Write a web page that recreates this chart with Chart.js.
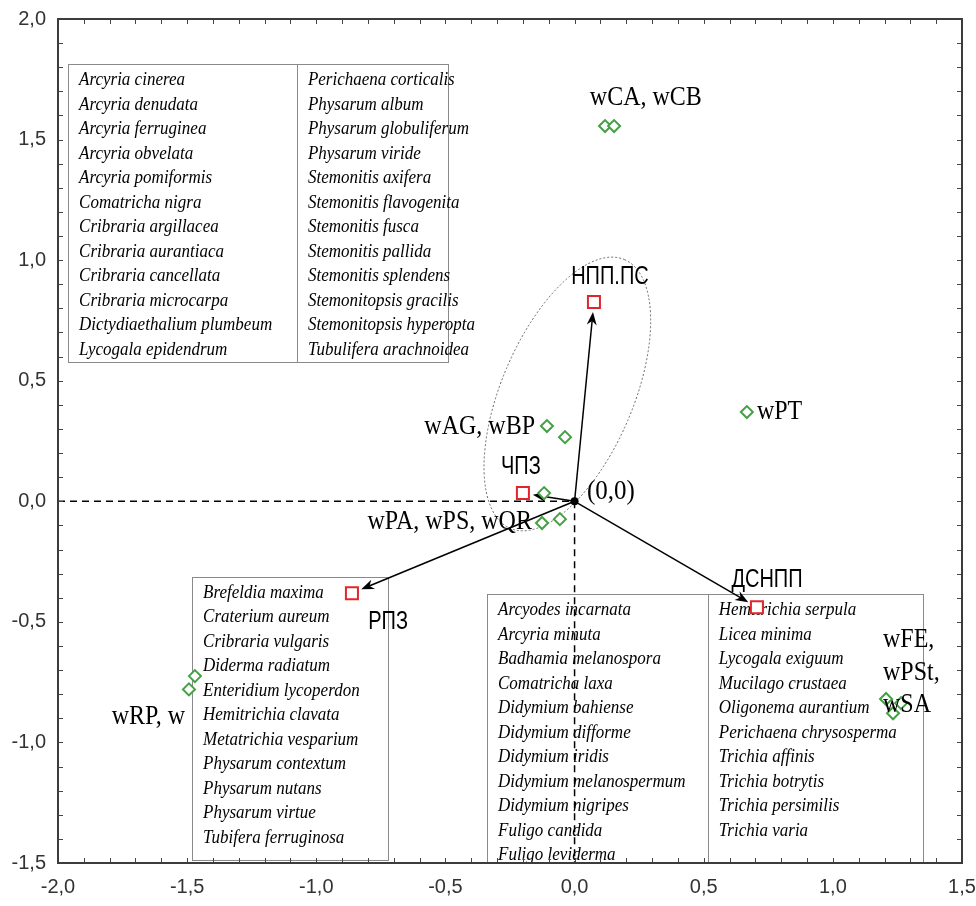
<!DOCTYPE html>
<html>
<head>
<meta charset="utf-8">
<script src="https://cdn.jsdelivr.net/npm/chart.js@4/dist/chart.umd.min.js"></script>
<style>
  html, body { margin: 0; padding: 0; background: #fff; }
  #wrap { width: 976px; height: 906px; }
</style>
</head>
<body>
<div id="wrap"><canvas id="chart" width="976" height="906"></canvas></div>
<script>
// axis ranges
const xRange = [-2.0, 1.5];
const yRange = [-1.5, 2.0];

// sites (green diamonds)
const siteX = [0.118, 0.153, 0.667, -0.107, -0.037, -0.118, -0.126, -0.057, -1.470, -1.493, 1.206, 1.264, 1.233];
const siteY = [1.556, 1.556, 0.370, 0.312, 0.266, 0.034, -0.090, -0.074, -0.725, -0.780, -0.820, -0.837, -0.879];
const siteLabels = ['wCA, wCB', 'wPT', 'wAG, wBP', 'wPA, wPS, wQR', 'wRP, w', 'wFE,', 'wPSt,', 'wSA'];

// zones (red squares, arrows from origin)
const zoneNames = ['НПП.ПС', 'ЧПЗ', 'РПЗ', 'ДСНПП'];
const zoneX = [0.075, -0.200, -0.862, 0.706];
const zoneY = [0.826, 0.034, -0.381, -0.439];

// species lists
const speciesA1 = ['Arcyria cinerea', 'Arcyria denudata', 'Arcyria ferruginea', 'Arcyria obvelata',
  'Arcyria pomiformis', 'Comatricha nigra', 'Cribraria argillacea', 'Cribraria aurantiaca',
  'Cribraria cancellata', 'Cribraria microcarpa', 'Dictydiaethalium plumbeum', 'Lycogala epidendrum'];
const speciesA2 = ['Perichaena corticalis', 'Physarum album', 'Physarum globuliferum', 'Physarum viride',
  'Stemonitis axifera', 'Stemonitis flavogenita', 'Stemonitis fusca', 'Stemonitis pallida',
  'Stemonitis splendens', 'Stemonitopsis gracilis', 'Stemonitopsis hyperopta', 'Tubulifera arachnoidea'];
const speciesB = ['Brefeldia maxima', 'Craterium aureum', 'Cribraria vulgaris', 'Diderma radiatum',
  'Enteridium lycoperdon', 'Hemitrichia clavata', 'Metatrichia vesparium', 'Physarum contextum',
  'Physarum nutans', 'Physarum virtue', 'Tubifera ferruginosa'];
const speciesC1 = ['Arcyodes incarnata', 'Arcyria minuta', 'Badhamia melanospora', 'Comatricha laxa',
  'Didymium bahiense', 'Didymium difforme', 'Didymium iridis', 'Didymium melanospermum',
  'Didymium nigripes', 'Fuligo candida', 'Fuligo leviderma'];
const speciesC2 = ['Hemitrichia serpula', 'Licea minima', 'Lycogala exiguum', 'Mucilago crustaea',
  'Oligonema aurantium', 'Perichaena chrysosperma', 'Trichia affinis', 'Trichia botrytis',
  'Trichia persimilis', 'Trichia varia'];

// where the text goes (data units)
const siteLabelPlaces = [
  { x: 0.276, y: 1.672, align: 'center' },
  { x: 0.706, y: 0.370, align: 'left' },
  { x: -0.153, y: 0.308, align: 'right' },
  { x: -0.165, y: -0.086, align: 'right' },
  { x: -1.508, y: -0.895, align: 'right' },
  { x: 1.194, y: -0.576, align: 'left' },
  { x: 1.194, y: -0.713, align: 'left' },
  { x: 1.194, y: -0.845, align: 'left' }
];
const zoneLabelPlaces = [
  { x: 0.137, y: 0.930 },
  { x: -0.208, y: 0.142 },
  { x: -0.722, y: -0.501 },
  { x: 0.745, y: -0.327 }
];
// boxes: x0, x1, yTop, yBottom, divider
const boxes = [
  { x0: -1.961, x1: -0.490, top: 1.813, bottom: 0.577, div: -1.075, cols: [speciesA1, speciesA2] },
  { x0: -1.481, x1: -0.722, top: -0.314, bottom: -1.488, div: null, cols: [speciesB] },
  { x0: -0.339, x1: 1.349, top: -0.385, bottom: -1.5, div: 0.516, cols: [speciesC1, speciesC2] }
];

const fmt = v => v.toFixed(1).replace('.', ',').replace('-0,0', '0,0');

function drawText(ctx, s, x, y, font, align, sy) {
  ctx.save();
  ctx.translate(x, y);
  ctx.scale(1, sy || 1);
  ctx.font = font;
  ctx.textAlign = align;
  ctx.textBaseline = 'middle';
  ctx.fillStyle = '#000';
  ctx.fillText(s, 0, 0);
  ctx.restore();
}

const ordination = {
  id: 'ordination',
  beforeDatasetsDraw(chart) {
    const ctx = chart.ctx;
    const xs = chart.scales.x, ys = chart.scales.y;
    const px = v => xs.getPixelForValue(v), py = v => ys.getPixelForValue(v);

    // species boxes
    ctx.save();
    ctx.strokeStyle = '#8a8a8a';
    ctx.lineWidth = 1;
    boxes.forEach(b => {
      const l = px(b.x0), r = px(b.x1), t = py(b.top), bt = py(b.bottom);
      ctx.strokeRect(Math.round(l) + 0.5, Math.round(t) + 0.5, Math.round(r - l), Math.round(bt - t));
      if (b.div !== null) {
        ctx.beginPath();
        ctx.moveTo(Math.round(px(b.div)) + 0.5, t);
        ctx.lineTo(Math.round(px(b.div)) + 0.5, bt);
        ctx.stroke();
      }
      const starts = b.div !== null ? [l, px(b.div)] : [l];
      b.cols.forEach((col, ci) => {
        col.forEach((s, ri) => {
          drawText(ctx, s, starts[ci] + 11, t + 16 + ri * 24.5, 'italic 17px "Liberation Serif"', 'left', 1.1);
        });
      });
    });
    ctx.restore();

    // ellipse round the two upper zones
    ctx.save();
    ctx.strokeStyle = '#666';
    ctx.setLineDash([2, 2]);
    ctx.lineWidth = 1;
    ctx.beginPath();
    ctx.ellipse(px(-0.028), py(0.445), 146, 66, -67 * Math.PI / 180, 0, Math.PI * 2);
    ctx.stroke();
    ctx.restore();

    // arrows from origin
    ctx.save();
    ctx.strokeStyle = '#000';
    ctx.fillStyle = '#000';
    ctx.lineWidth = 1.5;
    const ox = px(0), oy = py(0);
    zoneX.forEach((zx, i) => {
      const tx = px(zx), ty = py(zoneY[i]);
      const dx = tx - ox, dy = ty - oy, len = Math.hypot(dx, dy);
      const ux = dx / len, uy = dy / len;
      const ex = tx - ux * 10, ey = ty - uy * 10;
      ctx.beginPath();
      ctx.moveTo(ox, oy);
      ctx.lineTo(ex - ux * 8, ey - uy * 8);
      ctx.stroke();
      ctx.beginPath();
      ctx.moveTo(ex, ey);
      ctx.lineTo(ex - ux * 13 - uy * 5, ey - uy * 13 + ux * 5);
      ctx.lineTo(ex - ux * 9, ey - uy * 9);
      ctx.lineTo(ex - ux * 13 + uy * 5, ey - uy * 13 - ux * 5);
      ctx.closePath();
      ctx.fill();
    });
    ctx.restore();
  },
  afterDatasetsDraw(chart) {
    const ctx = chart.ctx;
    const xs = chart.scales.x, ys = chart.scales.y;
    const px = v => xs.getPixelForValue(v), py = v => ys.getPixelForValue(v);
    const a = chart.chartArea;

    // labels
    siteLabels.forEach((s, i) => {
      const p = siteLabelPlaces[i];
      drawText(ctx, s, px(p.x), py(p.y), '24px "Liberation Serif"', p.align, 1.1);
    });
    drawText(ctx, '(0,0)', px(0.048), py(0.038), '25px "Liberation Serif"', 'left', 1.1);
    zoneNames.forEach((s, i) => {
      const p = zoneLabelPlaces[i];
      drawText(ctx, s, px(p.x), py(p.y), '20px "Liberation Sans"', 'center', 1.25);
    });

    // frame and inward ticks
    ctx.save();
    ctx.strokeStyle = '#444';
    ctx.lineWidth = 1;
    ctx.beginPath();
    for (let i = -19; i < 15; i++) {
      const x = Math.round(px(i / 10)) + 0.5;
      ctx.moveTo(x, a.bottom); ctx.lineTo(x, a.bottom - 5);
      ctx.moveTo(x, a.top); ctx.lineTo(x, a.top + 5);
    }
    for (let i = -14; i < 20; i++) {
      const y = Math.round(py(i / 10)) + 0.5;
      ctx.moveTo(a.left, y); ctx.lineTo(a.left + 5, y);
      ctx.moveTo(a.right, y); ctx.lineTo(a.right - 5, y);
    }
    ctx.stroke();
    ctx.lineWidth = 2;
    ctx.strokeStyle = '#3c3c3c';
    ctx.strokeRect(a.left, a.top, a.right - a.left, a.bottom - a.top);
    ctx.restore();
  }
};

const chart = new Chart(document.getElementById('chart'), {
  type: 'scatter',
  data: {
    datasets: [
      {
        // dashed guide: left edge to origin
        data: [{ x: xRange[0], y: 0 }, { x: 0, y: 0 }],
        showLine: true, borderColor: '#000', borderWidth: 1.5, borderDash: [7, 5],
        pointRadius: 0
      },
      {
        // dashed guide: origin down to the bottom
        data: [{ x: 0, y: 0 }, { x: 0, y: yRange[0] }],
        showLine: true, borderColor: '#000', borderWidth: 1.5, borderDash: [7, 5],
        pointRadius: 0
      },
      {
        data: siteX.map((x, i) => ({ x: x, y: siteY[i] })),
        pointStyle: 'rectRot', pointRadius: 6, borderWidth: 2,
        borderColor: '#45a045', backgroundColor: '#fff'
      },
      {
        data: zoneX.map((x, i) => ({ x: x, y: zoneY[i] })),
        pointStyle: 'rect', pointRadius: 8.5, borderWidth: 2,
        borderColor: '#e3242b', backgroundColor: '#fff'
      },
      {
        data: [{ x: 0, y: 0 }],
        pointStyle: 'circle', pointRadius: 4, borderWidth: 0,
        backgroundColor: '#000'
      }
    ]
  },
  options: {
    responsive: false,
    animation: false,
    devicePixelRatio: 1,
    layout: { padding: { top: 19, right: 14, left: 0, bottom: 0 } },
    plugins: {
      legend: { display: false },
      tooltip: { enabled: false }
    },
    scales: {
      x: {
        type: 'linear', min: xRange[0], max: xRange[1],
        grid: { display: false, drawTicks: false },
        border: { display: false },
        ticks: {
          stepSize: 0.5, padding: 12, color: '#333', maxRotation: 0,
          font: { family: '"Liberation Sans"', size: 20 },
          callback: v => fmt(v)
        },
        afterFit: s => { s.height = 43; s.paddingLeft = 0; s.paddingRight = 0; }
      },
      y: {
        type: 'linear', min: yRange[0], max: yRange[1],
        grid: { display: false, drawTicks: false },
        border: { display: false },
        ticks: {
          stepSize: 0.5, padding: 12, color: '#333',
          font: { family: '"Liberation Sans"', size: 20 },
          callback: v => fmt(v)
        },
        afterFit: s => { s.width = 58; s.paddingTop = 0; s.paddingBottom = 0; }
      }
    }
  },
  plugins: [ordination]
});
</script>
</body>
</html>
